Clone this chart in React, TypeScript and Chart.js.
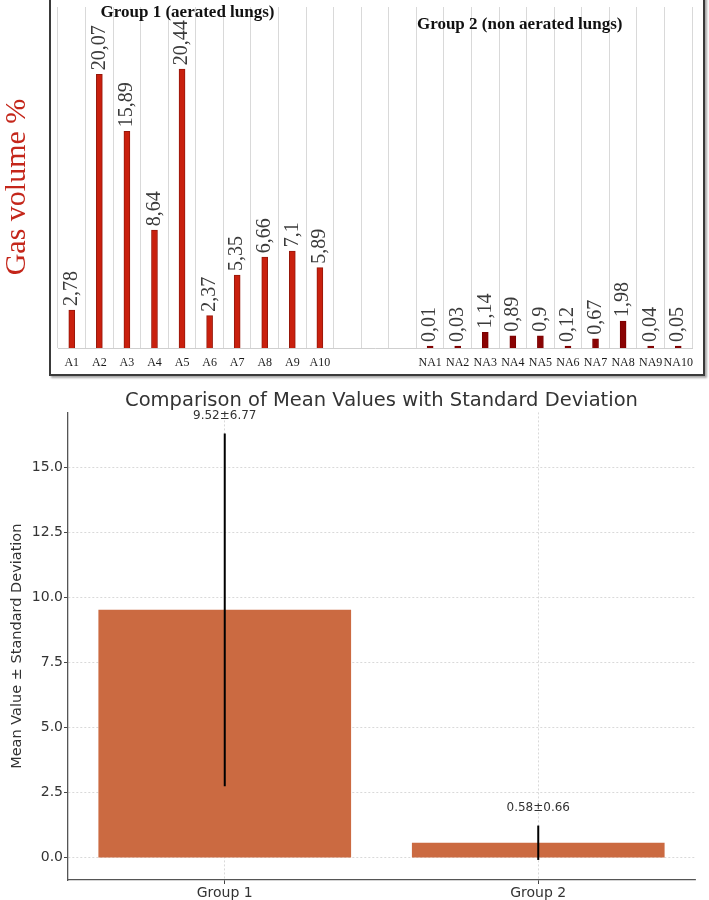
import React, { useEffect, useRef } from "react";
import { Chart, registerables } from "chart.js";

Chart.register(...registerables);

// ---------- Top chart data ----------
const aeratedLabels = ["A1", "A2", "A3", "A4", "A5", "A6", "A7", "A8", "A9", "A10"];
const aeratedValues = [2.78, 20.07, 15.89, 8.64, 20.44, 2.37, 5.35, 6.66, 7.1, 5.89];
const nonAeratedLabels = ["NA1", "NA2", "NA3", "NA4", "NA5", "NA6", "NA7", "NA8", "NA9", "NA10"];
const nonAeratedValues = [0.01, 0.03, 1.14, 0.89, 0.9, 0.12, 0.67, 1.98, 0.04, 0.05];
const gapCount = 3;
const groupTitles = ["Group 1 (aerated lungs)", "Group 2 (non aerated lungs)"];
const gasAxisTitle = "Gas volume %";
const gasAxisMax = 25;

// ---------- Bottom chart data ----------
const summaryLabels = ["Group 1", "Group 2"];
const summaryMeans = [9.52, 0.58];
const summarySds = [6.77, 0.66];
const summaryTicks = [0, 2.5, 5, 7.5, 10, 12.5, 15];
const summaryMin = -0.85;
const summaryMax = 17.1;
const summaryTitle = "Comparison of Mean Values with Standard Deviation";
const summaryAxisTitle = "Mean Value ± Standard Deviation";

const SERIF = "'Liberation Serif', 'Times New Roman', serif";
const SANS = "'DejaVu Sans', sans-serif";

function TopChart() {
  const ref = useRef<HTMLCanvasElement | null>(null);
  useEffect(() => {
    if (!ref.current) return;
    const gaps = Array(gapCount).fill(null);
    const labels = [...aeratedLabels, ...gaps.map(() => ""), ...nonAeratedLabels];
    const values = [...aeratedValues, ...gaps, ...nonAeratedValues];
    const nA = aeratedLabels.length;
    const bg = labels.map((_, i) => (i < nA ? "#C9200E" : "#8A0303"));
    const bd = labels.map((_, i) => (i < nA ? "#96170B" : "#7A0000"));

    const annot = {
      id: "topAnnot",
      afterDatasetsDraw(chart: any) {
        const ctx = chart.ctx;
        const meta = chart.getDatasetMeta(0);
        meta.data.forEach((bar: any, i: number) => {
          const v = values[i];
          if (v === null || v === undefined) return;
          ctx.save();
          ctx.translate(bar.x, bar.y - 4);
          ctx.rotate(-Math.PI / 2);
          ctx.font = `20px ${SERIF}`;
          ctx.fillStyle = "#3b3b3b";
          ctx.textAlign = "left";
          ctx.textBaseline = "middle";
          ctx.fillText(String(v).replace(".", ","), 0, 0);
          ctx.restore();
        });
        const xs = chart.scales.x;
        ctx.save();
        ctx.font = `bold 17px ${SERIF}`;
        ctx.fillStyle = "#111";
        ctx.textAlign = "center";
        ctx.textBaseline = "middle";
        ctx.fillText(groupTitles[0], xs.getPixelForValue(4.2), 13);
        ctx.fillText(groupTitles[1], xs.getPixelForValue(16.25), 25);
        ctx.restore();
        ctx.save();
        ctx.translate(17, 187);
        ctx.rotate(-Math.PI / 2);
        ctx.font = `30px ${SERIF}`;
        ctx.fillStyle = "#C4261A";
        ctx.textAlign = "center";
        ctx.textBaseline = "middle";
        ctx.fillText(gasAxisTitle, 0, 0);
        ctx.restore();
      },
    };

    const chart = new Chart(ref.current, {
      type: "bar",
      data: {
        labels,
        datasets: [
          {
            data: values as any,
            backgroundColor: bg,
            borderColor: bd,
            borderWidth: 1,
            barThickness: 6,
            minBarLength: 2,
          },
        ],
      },
      options: {
        responsive: false,
        animation: false,
        layout: { padding: { left: 58, right: 17, top: 7, bottom: 0 } },
        plugins: {
          legend: { display: false },
          tooltip: { enabled: false },
        },
        scales: {
          x: {
            grid: { color: "#d9d9d9", lineWidth: 1, drawTicks: false, offset: true },
            border: { color: "#cfcfcf" },
            ticks: {
              autoSkip: false,
              maxRotation: 0,
              minRotation: 0,
              padding: 8,
              color: "#1a1a1a",
              font: { family: SERIF, size: 12 },
            },
            afterFit: (s: any) => {
              s.height = 32;
            },
          },
          y: { display: false, min: 0, max: gasAxisMax },
        },
      },
      plugins: [annot],
    });
    return () => chart.destroy();
  }, []);
  return (
    <canvas
      ref={ref}
      width={709}
      height={380}
      style={{ position: "absolute", left: 0, top: 0, width: 709, height: 380 }}
    />
  );
}

function BottomChart() {
  const ref = useRef<HTMLCanvasElement | null>(null);
  useEffect(() => {
    if (!ref.current) return;
    const errPlugin = {
      id: "errBars",
      afterDatasetsDraw(chart: any) {
        const ctx = chart.ctx;
        const ys = chart.scales.y;
        const meta = chart.getDatasetMeta(0);
        meta.data.forEach((bar: any, i: number) => {
          const m = summaryMeans[i];
          const s = summarySds[i];
          const y1 = ys.getPixelForValue(m - s);
          const y2 = ys.getPixelForValue(m + s);
          ctx.save();
          ctx.strokeStyle = "#000";
          ctx.lineWidth = 2;
          ctx.beginPath();
          ctx.moveTo(bar.x, y1);
          ctx.lineTo(bar.x, y2);
          ctx.stroke();
          ctx.font = `12px ${SANS}`;
          ctx.fillStyle = "#333";
          ctx.textAlign = "center";
          ctx.textBaseline = "middle";
          ctx.fillText(
            `${m.toFixed(2)}±${s.toFixed(2)}`,
            bar.x,
            ys.getPixelForValue(m + s + 0.5) - 5
          );
          ctx.restore();
        });
      },
    };

    const chart = new Chart(ref.current, {
      type: "bar",
      data: {
        labels: summaryLabels,
        datasets: [
          {
            data: summaryMeans,
            backgroundColor: "#CB6A41",
            borderWidth: 0,
            barPercentage: 1,
            categoryPercentage: 0.806,
          },
        ],
      },
      options: {
        responsive: false,
        animation: false,
        layout: { padding: { left: 0, right: 14, top: 0, bottom: 0 } },
        plugins: {
          legend: { display: false },
          tooltip: { enabled: false },
          title: {
            display: true,
            text: summaryTitle,
            fullSize: false,
            color: "#333",
            font: { family: SANS, size: 19.5, weight: "normal" as any },
            padding: { top: 9, bottom: 0 },
          },
        },
        scales: {
          x: {
            offset: true,
            grid: {
              offset: false,
              color: "#d0d0d0",
              lineWidth: 0.8,
              drawTicks: true,
              tickLength: 4,
              tickColor: "#444",
              tickWidth: 1,
            },
            border: { color: "#555", width: 1.3, dash: [2, 2] },
            ticks: { color: "#333", padding: 1, font: { family: SANS, size: 14 } },
            afterFit: (s: any) => {
              s.height = 20;
            },
          },
          y: {
            min: summaryMin,
            max: summaryMax,
            afterBuildTicks: (s: any) => {
              s.ticks = summaryTicks.map((v) => ({ value: v }));
            },
            grid: {
              color: "#d0d0d0",
              lineWidth: 0.8,
              drawTicks: true,
              tickLength: 4,
              tickColor: "#444",
              tickWidth: 1,
            },
            border: { color: "#555", width: 1.3, dash: [2, 2] },
            ticks: {
              color: "#333",
              padding: 1,
              font: { family: SANS, size: 14 },
              callback: (v: any) => Number(v).toFixed(1),
            },
            title: {
              display: true,
              text: summaryAxisTitle,
              color: "#333",
              font: { family: SANS, size: 14.5 },
              padding: { top: 9, bottom: 0 },
            },
            afterFit: (s: any) => {
              s.width = 68;
            },
          },
        },
      },
      plugins: [errPlugin],
    });
    return () => chart.destroy();
  }, []);
  return (
    <canvas
      ref={ref}
      width={709}
      height={520}
      style={{ position: "absolute", left: 0, top: 380, width: 709, height: 520 }}
    />
  );
}

export default function App() {
  return (
    <div
      style={{
        position: "absolute",
        left: 0,
        top: 0,
        width: 709,
        height: 900,
        background: "#fff",
        overflow: "hidden",
      }}
    >
      <TopChart />
      <div
        style={{
          position: "absolute",
          left: 49,
          top: -4,
          width: 656,
          height: 380,
          boxSizing: "border-box",
          border: "2px solid #3a3a3a",
          boxShadow: "2px 2px 2px rgba(0,0,0,0.35)",
          pointerEvents: "none",
        }}
      />
      <BottomChart />
    </div>
  );
}
